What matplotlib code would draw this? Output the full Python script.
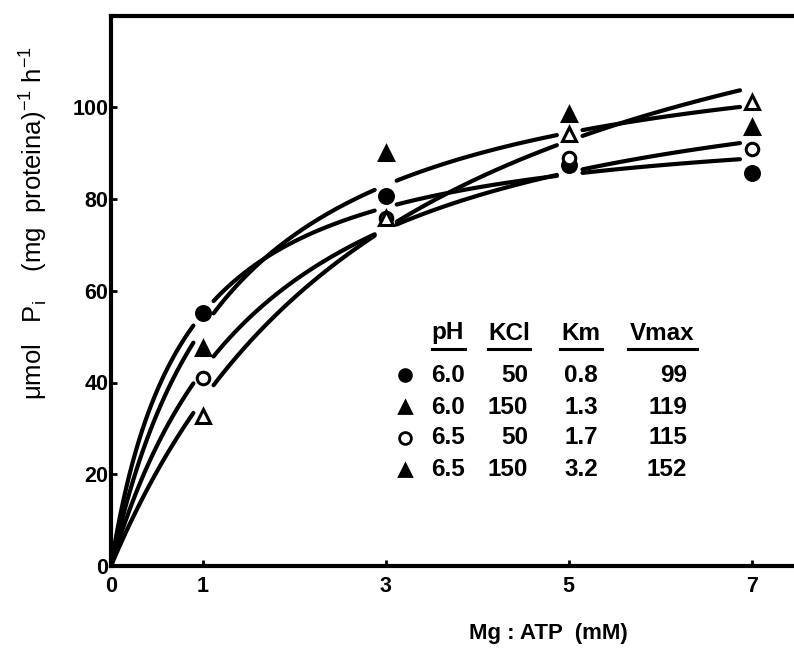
import numpy as np
import matplotlib
matplotlib.use("Agg")
import matplotlib.pyplot as plt

# ---- data ----
x_conc = [1, 3, 5, 7]
# pH 6.0 / KCl 50 (filled circle)
v_ph60_k50 = [55.2, 80.6, 87.5, 85.7]
# pH 6.0 / KCl 150 (filled triangle)
v_ph60_k150 = [47.5, 90.1, 98.5, 95.7]
# pH 6.5 / KCl 50 (open circle)
v_ph65_k50 = [41.0, 75.8, 89.0, 90.8]
# pH 6.5 / KCl 150 (open triangle)
v_ph65_k150 = [32.6, 75.8, 94.1, 101.2]

ph = ["6.0", "6.0", "6.5", "6.5"]
kcl = ["50", "150", "50", "150"]
km = [0.8, 1.3, 1.7, 3.2]
vmax = [99, 119, 115, 152]

x_ticks = [0, 1, 3, 5, 7]
y_ticks = [0, 20, 40, 60, 80, 100]

FONT = ["Liberation Sans", "DejaVu Sans"]
plt.rcParams["font.family"] = FONT
plt.rcParams["mathtext.fontset"] = "custom"
plt.rcParams["mathtext.rm"] = "Liberation Sans"

W, H = 794, 649
fig = plt.figure(figsize=(W / 100, H / 100), dpi=100)
ax = fig.add_axes([111 / W, 1 - 566 / H, (W - 111) / W, (566 - 15.5) / H])
ax.set_xlim(0, 7.46)
ax.set_ylim(0, 120)

series = [v_ph60_k50, v_ph60_k150, v_ph65_k50, v_ph65_k150]
styles = [
    dict(marker="o", mfc="black", ms=10),
    dict(marker="^", mfc="black", ms=10),
    dict(marker="o", mfc="white", ms=9),
    dict(marker="^", mfc="white", ms=10),
]

# fitted Michaelis-Menten curves (from Km / Vmax in the table), broken near data columns
segments = [(0.0, 0.9), (1.12, 2.88), (3.12, 4.87), (5.15, 6.87)]
for k, vm in zip(km, vmax):
    for a, b in segments:
        s = np.linspace(a, b, 60)
        ax.plot(s, vm * s / (k + s), color="black", lw=3.0, solid_capstyle="round")

for vals, st in zip(series, styles):
    ax.plot(x_conc, vals, ls="none", marker=st["marker"], mfc=st["mfc"],
            mec="black", mew=2.2, ms=st["ms"], zorder=5)

for side in ["left", "top", "bottom"]:
    ax.spines[side].set_linewidth(3)
ax.spines["right"].set_visible(False)
ax.set_xticks(x_ticks)
ax.set_yticks(y_ticks)
ax.tick_params(direction="in", length=4, width=2, labelsize=15.5)
ax.tick_params(axis="x", pad=7)
ax.tick_params(axis="y", pad=2)
for lab in ax.get_xticklabels() + ax.get_yticklabels():
    lab.set_fontweight("bold")


def axf(px, py):
    return ((px - 111) / (W - 111), (566 - py) / (566 - 15.5))


# table legend
tkw = dict(transform=ax.transAxes, fontsize=17.5, fontweight="bold", va="center")
headers = [("pH", 448, "center"), ("KCl", 509, "center"), ("Km", 581, "center"), ("Vmax", 662, "center")]
for txt, px, ha in headers:
    ax.text(*axf(px, 333), txt, ha=ha, **tkw)
for x1, x2 in [(432, 465), (488, 530), (560, 602), (628, 697)]:
    a = axf(x1, 349)
    b = axf(x2, 349)
    ax.plot([a[0], b[0]], [a[1], b[1]], color="black", lw=2.2, transform=ax.transAxes)

row_y = [375, 407, 438, 470]
leg_markers = [("o", "black"), ("^", "black"), ("o", "white"), ("^", "black")]
for i, py in enumerate(row_y):
    m, fc = leg_markers[i]
    mx, my = axf(405, py)
    ax.plot([mx], [my], marker=m, mfc=fc, mec="black", mew=2, ms=8.5, transform=ax.transAxes)
    ax.text(*axf(448, py), ph[i], ha="center", **tkw)
    ax.text(*axf(528, py), kcl[i], ha="right", **tkw)
    ax.text(*axf(581, py), f"{km[i]:.1f}", ha="center", **tkw)
    ax.text(*axf(687, py), str(vmax[i]), ha="right", **tkw)

fig.text(548 / W, 1 - 633 / H, "Mg : ATP  (mM)", ha="center", va="center",
         fontsize=16, fontweight="bold")
fig.text(33 / W, 1 - 223 / H,
         r"μmol   P$_\mathregular{i}$    (mg  proteina)$^\mathregular{-1}$ h$^\mathregular{-1}$",
         rotation=90, ha="center", va="center", fontsize=18.5)

fig.savefig("out.png", dpi=100)
